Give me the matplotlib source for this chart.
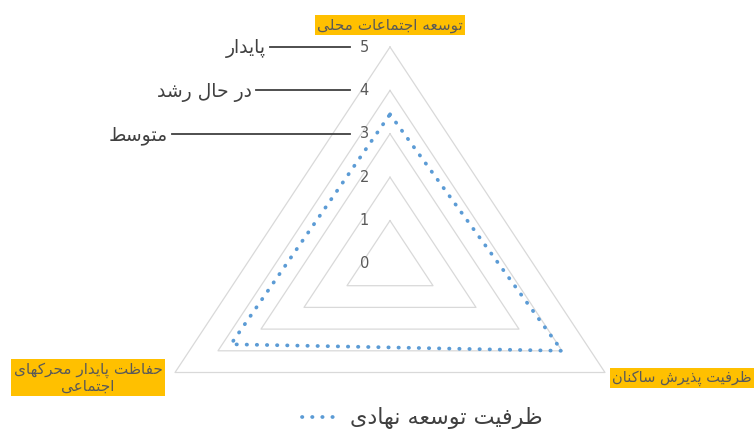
import numpy as np
import matplotlib.pyplot as plt

# data
categories = ["توسعه اجتماعات محلی", "ظرفیت پذیرش ساکنان", "حفاظت پایدار محرکهای\nاجتماعی"]
series_name = "ظرفیت توسعه نهادی"
values = [3.45, 4.0, 3.7]
levels = [1, 2, 3, 4, 5]
tick_labels = ["0", "1", "2", "3", "4", "5"]
level_names = ["پایدار", "در حال رشد", "متوسط"]
level_values = [5, 4, 3]

# minimal persian shaping (matplotlib has no bidi / joining)
# char -> (isolated form codepoint, joins to the next letter)
TABLE = {
    'ا': (0xFE8D, False), 'آ': (0xFE81, False), 'ب': (0xFE8F, True),
    'ت': (0xFE95, True), 'ث': (0xFE99, True), 'ج': (0xFE9D, True),
    'ح': (0xFEA1, True), 'خ': (0xFEA5, True), 'د': (0xFEA9, False),
    'ذ': (0xFEAB, False), 'ر': (0xFEAD, False), 'ز': (0xFEAF, False),
    'س': (0xFEB1, True), 'ش': (0xFEB5, True), 'ص': (0xFEB9, True),
    'ض': (0xFEBD, True), 'ط': (0xFEC1, True), 'ظ': (0xFEC5, True),
    'ع': (0xFEC9, True), 'غ': (0xFECD, True), 'ف': (0xFED1, True),
    'ق': (0xFED5, True), 'ل': (0xFEDD, True), 'م': (0xFEE1, True),
    'ن': (0xFEE5, True), 'ه': (0xFEE9, True), 'و': (0xFEED, False),
    'ی': (0xFBFC, True), 'ي': (0xFEF1, True), 'پ': (0xFB56, True),
    'ک': (0xFB8E, True), 'ژ': (0xFB8A, False), 'گ': (0xFB92, True),
    'چ': (0xFB7A, True),
}


def shape(s):
    lines = []
    for line in s.split("\n"):
        out = []
        for i, c in enumerate(line):
            if c not in TABLE:
                out.append(c)
                continue
            iso, dual = TABLE[c]
            prev = line[i - 1] if i > 0 else ''
            nxt = line[i + 1] if i + 1 < len(line) else ''
            jp = prev in TABLE and TABLE[prev][1]
            jn = dual and nxt in TABLE
            out.append(chr(iso + (1 if jp else 0) + (2 if jn else 0)))
        lines.append(''.join(out)[::-1])
    return "\n".join(lines)


# pixel geometry of the reference: centre and px per unit
cx, cy = 390, 264
sx, sy = 49.65, 43.4
W, H = 756, 433

fig = plt.figure(figsize=(W / 100, H / 100), dpi=100)
ax = fig.add_axes([0, 0, 1, 1])
ax.set_xlim(-cx / sx, (W - cx) / sx)
ax.set_ylim(-(H - cy) / sy, cy / sy)
ax.axis('off')

theta = np.linspace(0, 2 * np.pi, len(categories), endpoint=False)
th_c = np.append(theta, theta[0])

# grid triangles
for r in levels:
    ax.plot(r * np.sin(th_c), r * np.cos(th_c), color='#D9D9D9', lw=0.9, zorder=1)

# series
v = np.array(values + values[:1])
ax.plot(v * np.sin(th_c), v * np.cos(th_c), color='#5B9BD5', lw=2.7,
        linestyle=(0, (0.1, 2.6)), dash_capstyle='round', zorder=3,
        label=shape(series_name))

# radial tick labels
for i, t in enumerate(tick_labels):
    ax.text(-21 / sx, i, t, ha='right', va='center', fontsize=10.5, color='#595959')

# level names with leader lines
starts = [270, 256, 172]
for name, lv, x0 in zip(level_names, level_values, starts):
    ax.plot([(x0 - cx) / sx, (350 - cx) / sx], [lv, lv], color='#404040', lw=1.3)
    ax.text((x0 - 4 - cx) / sx, lv - 0.04, shape(name), ha='right', va='center',
            fontsize=13.5, color='#404040')

# category labels
box = dict(boxstyle='square,pad=0.15', fc='#FFC000', ec='none')
ax.text(0, (cy - 25) / sy, shape(categories[0]), ha='center', va='center',
        fontsize=11, color='#595959', bbox=box)
ax.text((752 - cx) / sx, (cy - 378) / sy, shape(categories[1]), ha='right', va='center',
        fontsize=10.5, color='#595959', bbox=box)
ax.text((88 - cx) / sx, (cy - 378) / sy, shape(categories[2]), ha='center', va='center',
        fontsize=11, color='#595959', bbox=box, multialignment='center', linespacing=1.1)

ax.legend(loc='center', bbox_to_anchor=(0.559, 0.034), bbox_transform=fig.transFigure,
          frameon=False, fontsize=16, handlelength=1.75, handletextpad=0.4,
          borderpad=0, labelcolor='#404040')

fig.savefig('out.png', dpi=100)
